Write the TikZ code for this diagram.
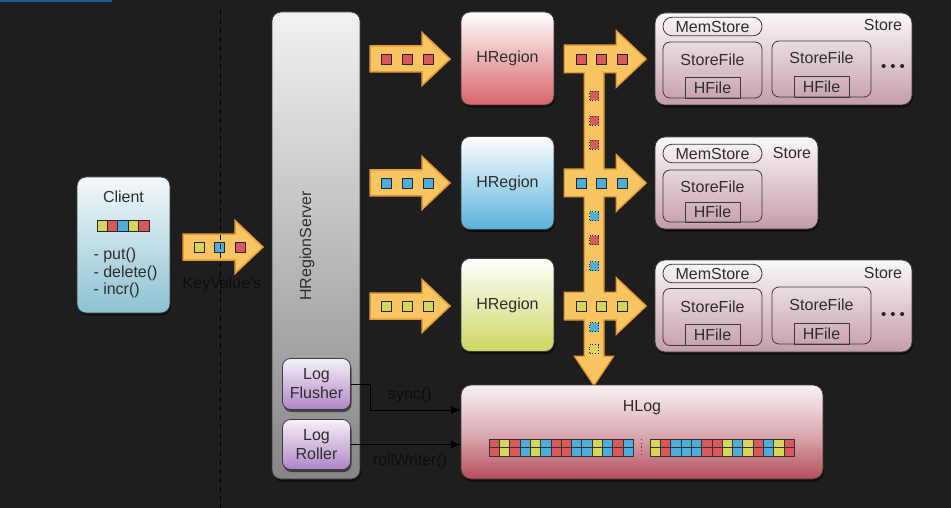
\documentclass[tikz,border=0pt]{standalone}
\usepackage{fontspec}
\setmainfont{Liberation Sans}
\usetikzlibrary{arrows.meta,shadows}
\definecolor{bgc}{HTML}{1E1E1E}
\definecolor{stripc}{HTML}{1F5C99}
\definecolor{arrfill}{HTML}{F9C462}
\definecolor{arrline}{HTML}{E39A34}
\definecolor{cR}{HTML}{D9585C}
\definecolor{cB}{HTML}{4DAEDB}
\definecolor{cY}{HTML}{D6D65A}
\definecolor{txt}{HTML}{2E2E2E}
\definecolor{edge}{HTML}{3A3A3A}
\definecolor{dimtxt}{HTML}{0D0D0D}
\definecolor{cliTop}{HTML}{F4F8FA}
\definecolor{cliBot}{HTML}{8CC2D2}
\definecolor{srvTop}{HTML}{F2F2F2}
\definecolor{srvBot}{HTML}{858585}
\definecolor{logTop}{HTML}{F6F1F8}
\definecolor{logBot}{HTML}{AE86C6}
\definecolor{hrOne}{HTML}{D8646A}
\definecolor{hrTwo}{HTML}{5AB2DC}
\definecolor{hrThree}{HTML}{CCD662}
\definecolor{stTop}{HTML}{FBF8F9}
\definecolor{stBot}{HTML}{C49CAA}
\definecolor{hlTop}{HTML}{F8F2F3}
\definecolor{hlMid}{HTML}{DDAEB5}
\definecolor{hlBot}{HTML}{B64E5C}
\begin{document}
\begin{tikzpicture}[x=1pt,y=-1pt,
  every node/.style={font=\fontsize{16}{18}\selectfont, text=txt},
  box/.style={draw=edge, line width=0.8pt, rounded corners=9pt, inner sep=0pt,
    drop shadow={shadow xshift=1pt, shadow yshift=-2.5pt, opacity=0.55, fill=black}},
  inbox/.style={draw=edge, line width=0.8pt, inner sep=0pt},
  sq/.style={draw=black!85, line width=0.7pt, minimum size=10pt, inner sep=0pt},
  dsq/.style={draw=black!85, dotted, line width=0.9pt, minimum size=9pt, inner sep=0pt},
  cellsty/.style={draw=black!80, line width=0.6pt, minimum width=10.3pt, minimum height=17pt, inner sep=0pt},
  dimlabel/.style={text=dimtxt},
  dotsty/.style={font=\fontsize{15}{15}\selectfont, text=black!85},
  conn/.style={draw=black, line width=1pt, -{Latex[length=10pt,width=8pt]}},
  fatarrow/.pic={\path[pic actions] (0,-13) -- (52,-13) -- (52,-26.5) -- (80,0) -- (52,26.5) -- (52,13) -- (0,13) -- cycle;}
]
% background
\fill[bgc] (0,0) rectangle (951,508);
\useasboundingbox (0,0) rectangle (951,508);
\fill[stripc] (0,0) rectangle (112,2.5);

% Client
\node[box, minimum width=93pt, minimum height=136pt, top color=cliTop, bottom color=cliBot] (client) at (123.5,245) {};
\node (clientT) at (123.5,197) {Client};
\foreach \c [count=\i] in {cY,cR,cB,cY,cR}
  \node[sq, fill=\c, minimum width=10.4pt, minimum height=11pt] (cb\i) at ({102.2+(\i-1)*10.4},225.5) {};
\node[anchor=west, align=left, font=\fontsize{16}{17.5}\selectfont] (ops) at (90,273) {- put()\\- delete()\\- incr()};

% KeyValue arrow
\pic[draw=arrline, fill=arrfill, line width=1.5pt] at (183,247) {fatarrow};
\node[sq, fill=cY] (kv1) at (199,247) {};
\node[sq, fill=cB] (kv2) at (219,247) {};
\node[sq, fill=cR] (kv3) at (240,247) {};
\node[dimlabel] (kvl) at (222,284) {KeyValue's};

% dashed separator
\coordinate (dtop) at (220,10);
\coordinate (dbot) at (220,508);
\draw[black, line width=1pt, dash pattern=on 5pt off 4pt] (dtop) -- (dbot);

% HRegionServer
\node[box, minimum width=88pt, minimum height=467pt, top color=srvTop, bottom color=srvBot] (hrs) at (316,245.5) {};
\node[rotate=90] (hrsT) at (307,246) {HRegionServer};
\node[box, rounded corners=8pt, minimum width=68pt, minimum height=51pt, top color=logTop, bottom color=logBot, align=center, font=\fontsize{16}{19}\selectfont] (lf) at (316.5,384) {Log\\Flusher};
\node[box, rounded corners=8pt, minimum width=68pt, minimum height=50pt, top color=logTop, bottom color=logBot, align=center, font=\fontsize{16}{19}\selectfont] (lr) at (316.5,444.5) {Log\\Roller};

% arrows into regions
\foreach \yy/\c [count=\k] in {59/cR,183/cB,306/cY}{
  \pic[draw=arrline, fill=arrfill, line width=1.5pt] at (370,\yy) {fatarrow};
  \node[sq, fill=\c] (ia\k a) at (386,\yy) {};
  \node[sq, fill=\c] (ia\k b) at (407,\yy) {};
  \node[sq, fill=\c] (ia\k c) at (428,\yy) {};
}

% HRegions
\node[box, minimum width=93pt, minimum height=93pt, top color=white, bottom color=hrOne] (hr1) at (507.5,58.5) {HRegion};
\node[box, minimum width=93pt, minimum height=93pt, top color=white, bottom color=hrTwo] (hr2) at (507.5,183) {HRegion};
\node[box, minimum width=93pt, minimum height=93pt, top color=white, bottom color=hrThree] (hr3) at (507.5,305) {HRegion};

% right arrows + shaft (outline then fill)
\foreach \yy in {59,183,306}
  \pic[draw=arrline, line width=3pt] at (565,\yy) {fatarrow};
\path[draw=arrline, line width=3pt, line join=miter] (585,60) -- (603,60) -- (603,357) -- (612,357) -- (594,384) -- (576,357) -- (585,357) -- cycle;
\foreach \yy in {59,183,306}
  \pic[fill=arrfill] at (565,\yy) {fatarrow};
\path[fill=arrfill] (585,60) -- (603,60) -- (603,357) -- (612,357) -- (594,384) -- (576,357) -- (585,357) -- cycle;
\foreach \yy/\c [count=\k] in {59/cR,183/cB,306/cY}{
  \node[sq, fill=\c] (oa\k a) at (581,\yy) {};
  \node[sq, fill=\c] (oa\k b) at (601.5,\yy) {};
  \node[sq, fill=\c] (oa\k c) at (622,\yy) {};
}
\foreach \yy/\c [count=\k] in {96/cR,121/cR,145/cR,216/cB,240/cR,266/cB,327/cB,349/cY}
  \node[dsq, fill=\c] (ds\k) at (594,\yy) {};

% Store 1
\node[box, rounded corners=10pt, minimum width=257pt, minimum height=92pt, top color=stTop, bottom color=stBot] (st1) at (783.5,59) {};
\node (st1l) at (883,25) {Store};
\node[inbox, rounded corners=9pt, minimum width=99pt, minimum height=18.5pt] (ms1) at (712.5,26.5) {MemStore};
\node[inbox, rounded corners=7pt, minimum width=99pt, minimum height=56pt] (sf1a) at (712.5,70) {};
\node (sf1aT) at (712.5,60) {StoreFile};
\node[inbox, minimum width=55pt, minimum height=21pt, anchor=south] (hf1a) at (sf1a.south) {HFile};
\node[inbox, rounded corners=7pt, minimum width=99pt, minimum height=56pt] (sf1b) at (821.5,69) {};
\node (sf1bT) at (821.5,58) {StoreFile};
\node[inbox, minimum width=55pt, minimum height=21pt, anchor=south] (hf1b) at (sf1b.south) {HFile};
\node[dotsty] (dots1) at (893,68) {\textbullet\hspace{4pt}\textbullet\hspace{4pt}\textbullet};

% Store 2
\node[box, rounded corners=10pt, minimum width=163pt, minimum height=92pt, top color=stTop, bottom color=stBot] (st2) at (736.5,183) {};
\node (st2l) at (792,153) {Store};
\node[inbox, rounded corners=9pt, minimum width=99pt, minimum height=18.5pt] (ms2) at (712.5,153.5) {MemStore};
\node[inbox, rounded corners=7pt, minimum width=99pt, minimum height=52pt] (sf2a) at (712.5,196) {};
\node (sf2aT) at (712.5,186.5) {StoreFile};
\node[inbox, minimum width=55pt, minimum height=20pt, anchor=south] (hf2a) at (sf2a.south) {HFile};

% Store 3
\node[box, rounded corners=10pt, minimum width=257pt, minimum height=92pt, top color=stTop, bottom color=stBot] (st3) at (783.5,306) {};
\node (st3l) at (883,272.5) {Store};
\node[inbox, rounded corners=9pt, minimum width=99pt, minimum height=18.5pt] (ms3) at (712.5,273.5) {MemStore};
\node[inbox, rounded corners=7pt, minimum width=99pt, minimum height=57pt] (sf3a) at (712.5,317) {};
\node (sf3aT) at (712.5,307) {StoreFile};
\node[inbox, minimum width=55pt, minimum height=21pt, anchor=south] (hf3a) at (sf3a.south) {HFile};
\node[inbox, rounded corners=7pt, minimum width=99pt, minimum height=57pt] (sf3b) at (821.5,315.5) {};
\node (sf3bT) at (821.5,305) {StoreFile};
\node[inbox, minimum width=55pt, minimum height=21pt, anchor=south] (hf3b) at (sf3b.south) {HFile};
\node[dotsty] (dots3) at (893,316) {\textbullet\hspace{4pt}\textbullet\hspace{4pt}\textbullet};

% HLog
\node[box, rounded corners=10pt, minimum width=362pt, minimum height=94pt, top color=hlTop, bottom color=hlBot, middle color=hlMid] (hlog) at (642,432) {};
\node (hlogT) at (642,408) {HLog};
\foreach \c [count=\i] in {cR,cY,cR,cB,cY,cB,cR,cR,cB,cB,cY,cB,cR,cB}
  \node[cellsty, fill=\c] (la\i) at ({489+5.15+(\i-1)*10.3},447.5) {};
\foreach \c [count=\i] in {cY,cR,cB,cB,cB,cR,cR,cY,cB,cY,cR,cB,cY,cR}
  \node[cellsty, fill=\c] (lb\i) at ({650+5.15+(\i-1)*10.3},447.5) {};
\draw[black!80, line width=0.6pt] (la1.west) -- (la14.east);
\draw[black!80, line width=0.6pt] (lb1.west) -- (lb14.east);
\draw[black!70, line width=0.8pt, dash pattern=on 1.2pt off 2.5pt] (641,439) -- (641,456);

% connectors
\coordinate (syncIn) at (461,410);
\coordinate (rollIn) at (461,444.5);
\draw[conn] (lf.east) -- (370,384) |- (syncIn);
\draw[conn] (lr.east) -- (rollIn);
\node[dimlabel] (syncl) at (410,395) {sync()};
\node[dimlabel] (rolll) at (410,461) {rollWriter()};
\end{tikzpicture}
\end{document}
